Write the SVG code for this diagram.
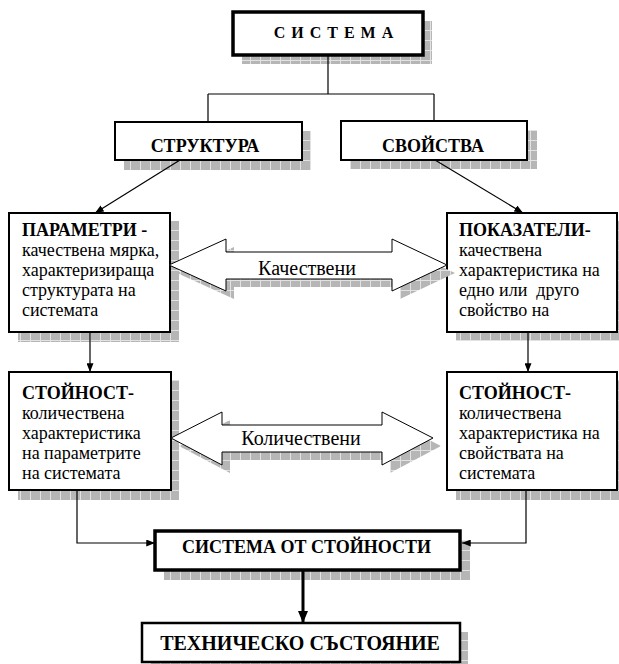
<svg xmlns="http://www.w3.org/2000/svg" width="619" height="664" viewBox="0 0 619 664">
  <style>
    .box { fill: #ffffff; stroke: #000000; stroke-width: 2; }
    .heavy { fill: #ffffff; stroke: #000000; stroke-width: 3.5; }
    .shadow { fill: url(#grid); }
    text { font-family: 'Liberation Serif', 'Times New Roman', serif; fill: #000; }
    .head { font-weight: bold; font-size: 18px; }
    .title { font-weight: bold; font-size: 16px; letter-spacing: 1px; }
    .big { font-weight: bold; font-size: 20px; }
    .body { font-size: 18px; }
    .label { font-size: 20px; }
    .wire { fill: none; stroke: #000; stroke-width: 1.2; }
    .block { fill: #ffffff; stroke: #000; stroke-width: 1; }
  </style>
  <defs>
    <pattern id="grid" patternUnits="userSpaceOnUse" width="10" height="10">
      <rect width="10" height="10" fill="#b6b6b6"/>
      <rect width="1" height="10" fill="#e2e2e2"/>
      <rect width="10" height="1" fill="#e2e2e2"/>
    </pattern>
    <marker id="tip" markerUnits="userSpaceOnUse" viewBox="0 0 10 8" markerWidth="9" markerHeight="7" refX="10" refY="4" orient="auto">
      <path d="M0,0 L10,4 L0,8 z" fill="#000"/>
    </marker>
    <marker id="tipBig" markerUnits="userSpaceOnUse" viewBox="0 0 12 10" markerWidth="12" markerHeight="11" refX="12" refY="5" orient="auto">
      <path d="M0,0 L12,5 L0,10 z" fill="#000"/>
    </marker>
  </defs>

  <rect width="619" height="664" fill="#ffffff"/>

  <!-- top: system -->
  <g id="sistema">
    <rect class="shadow" x="242" y="21" width="190" height="43"/>
    <rect class="heavy" x="233" y="12" width="190" height="43"/>
    <text class="title" x="334" y="38" text-anchor="middle" xml:space="preserve">С И С Т Е М А</text>
  </g>

  <!-- second row -->
  <g id="struktura">
    <rect class="shadow" x="124" y="131" width="187" height="39"/>
    <rect class="box" x="115" y="122" width="187" height="38"/>
    <text class="head" x="205" y="152" text-anchor="middle">СТРУКТУРА</text>
  </g>
  <g id="svoistva">
    <rect class="shadow" x="350" y="130" width="187" height="39"/>
    <rect class="box" x="341" y="121" width="186" height="39"/>
    <text class="head" x="433" y="152" text-anchor="middle">СВОЙСТВА</text>
  </g>

  <!-- third row -->
  <g id="parametri">
    <rect class="shadow" x="18" y="221" width="161" height="121"/>
    <rect class="box" x="9" y="213" width="161" height="119"/>
    <text class="head" x="22" y="236">ПАРАМЕТРИ -</text>
    <text class="body" x="22" y="256">качествена мярка,</text>
    <text class="body" x="22" y="276">характеризираща</text>
    <text class="body" x="22" y="296">структурата на</text>
    <text class="body" x="22" y="316">системата</text>
  </g>
  <g id="pokazateli">
    <rect class="shadow" x="456" y="221" width="170" height="120"/>
    <rect class="box" x="447" y="213" width="170" height="119"/>
    <text class="head" x="459" y="236">ПОКАЗАТЕЛИ-</text>
    <text class="body" x="459" y="256">качествена</text>
    <text class="body" x="459" y="276">характеристика на</text>
    <text class="body" x="459" y="296" xml:space="preserve">едно или  друго</text>
    <text class="body" x="459" y="316">свойство на</text>
  </g>

  <!-- fourth row -->
  <g id="stoinost-param">
    <rect class="shadow" x="18" y="380" width="161" height="120"/>
    <rect class="box" x="9" y="372" width="162" height="118"/>
    <text class="head" x="22" y="399">СТОЙНОСТ-</text>
    <text class="body" x="22" y="419">количествена</text>
    <text class="body" x="22" y="439">характеристика</text>
    <text class="body" x="22" y="459">на параметрите</text>
    <text class="body" x="22" y="479">на системата</text>
  </g>
  <g id="stoinost-svoistva">
    <rect class="shadow" x="456" y="380" width="170" height="120"/>
    <rect class="box" x="447" y="372" width="170" height="118"/>
    <text class="head" x="459" y="399">СТОЙНОСТ-</text>
    <text class="body" x="459" y="419">количествена</text>
    <text class="body" x="459" y="439">характеристика на</text>
    <text class="body" x="459" y="459">свойствата на</text>
    <text class="body" x="459" y="479">системата</text>
  </g>

  <!-- bottom -->
  <g id="sistema-ot-stoinosti">
    <rect class="shadow" x="164" y="540" width="306" height="40"/>
    <rect class="heavy" x="155" y="531" width="305" height="39"/>
    <text class="head" x="306.5" y="553" text-anchor="middle">СИСТЕМА ОТ СТОЙНОСТИ</text>
  </g>
  <g id="tehnichesko-sastoyanie">
    <rect class="shadow" x="151" y="632" width="317" height="40"/>
    <rect class="box" x="142" y="623" width="318" height="39" style="stroke-width:2.5"/>
    <text class="big" x="300" y="650" text-anchor="middle">ТЕХНИЧЕСКО СЪСТОЯНИЕ</text>
  </g>

  <!-- connectors -->
  <g id="connectors">
    <path class="wire" d="M328,55 V94 M208,94 H434 M208,94 V122 M434,94 V121"/>
    <line class="wire" x1="180" y1="160" x2="95" y2="213" marker-end="url(#tip)"/>
    <line class="wire" x1="435" y1="160" x2="523" y2="213" marker-end="url(#tip)"/>
    <line class="wire" x1="90" y1="332" x2="90" y2="372" marker-end="url(#tip)"/>
    <line class="wire" x1="528" y1="332" x2="528" y2="372" marker-end="url(#tip)"/>
    <path class="wire" d="M77,490 V543 H155" marker-end="url(#tip)"/>
    <path class="wire" d="M526,490 V543 H462" marker-end="url(#tip)"/>
    <line x1="303" y1="570" x2="303" y2="623" stroke="#000" stroke-width="3" marker-end="url(#tipBig)"/>

    <!-- two-way block arrows -->
    <polygon class="shadow" points="177,273 234,247 234,260 400,260 400,247 455,273 400,299 400,287 234,287 234,299"/>
    <polygon class="block" points="169,265 226,239 226,252 392,252 392,239 447,265 392,291 392,279 226,279 226,291"/>
    <text class="label" x="307" y="275" text-anchor="middle">Качествени</text>

    <polygon class="shadow" points="179,446 230,420 230,433 390,433 390,420 441,446 390,473 390,460 230,460 230,473"/>
    <polygon class="block" points="171,438 222,412 222,425 382,425 382,412 433,438 382,465 382,452 222,452 222,465"/>
    <text class="label" x="301" y="445" text-anchor="middle">Количествени</text>
  </g>
</svg>
